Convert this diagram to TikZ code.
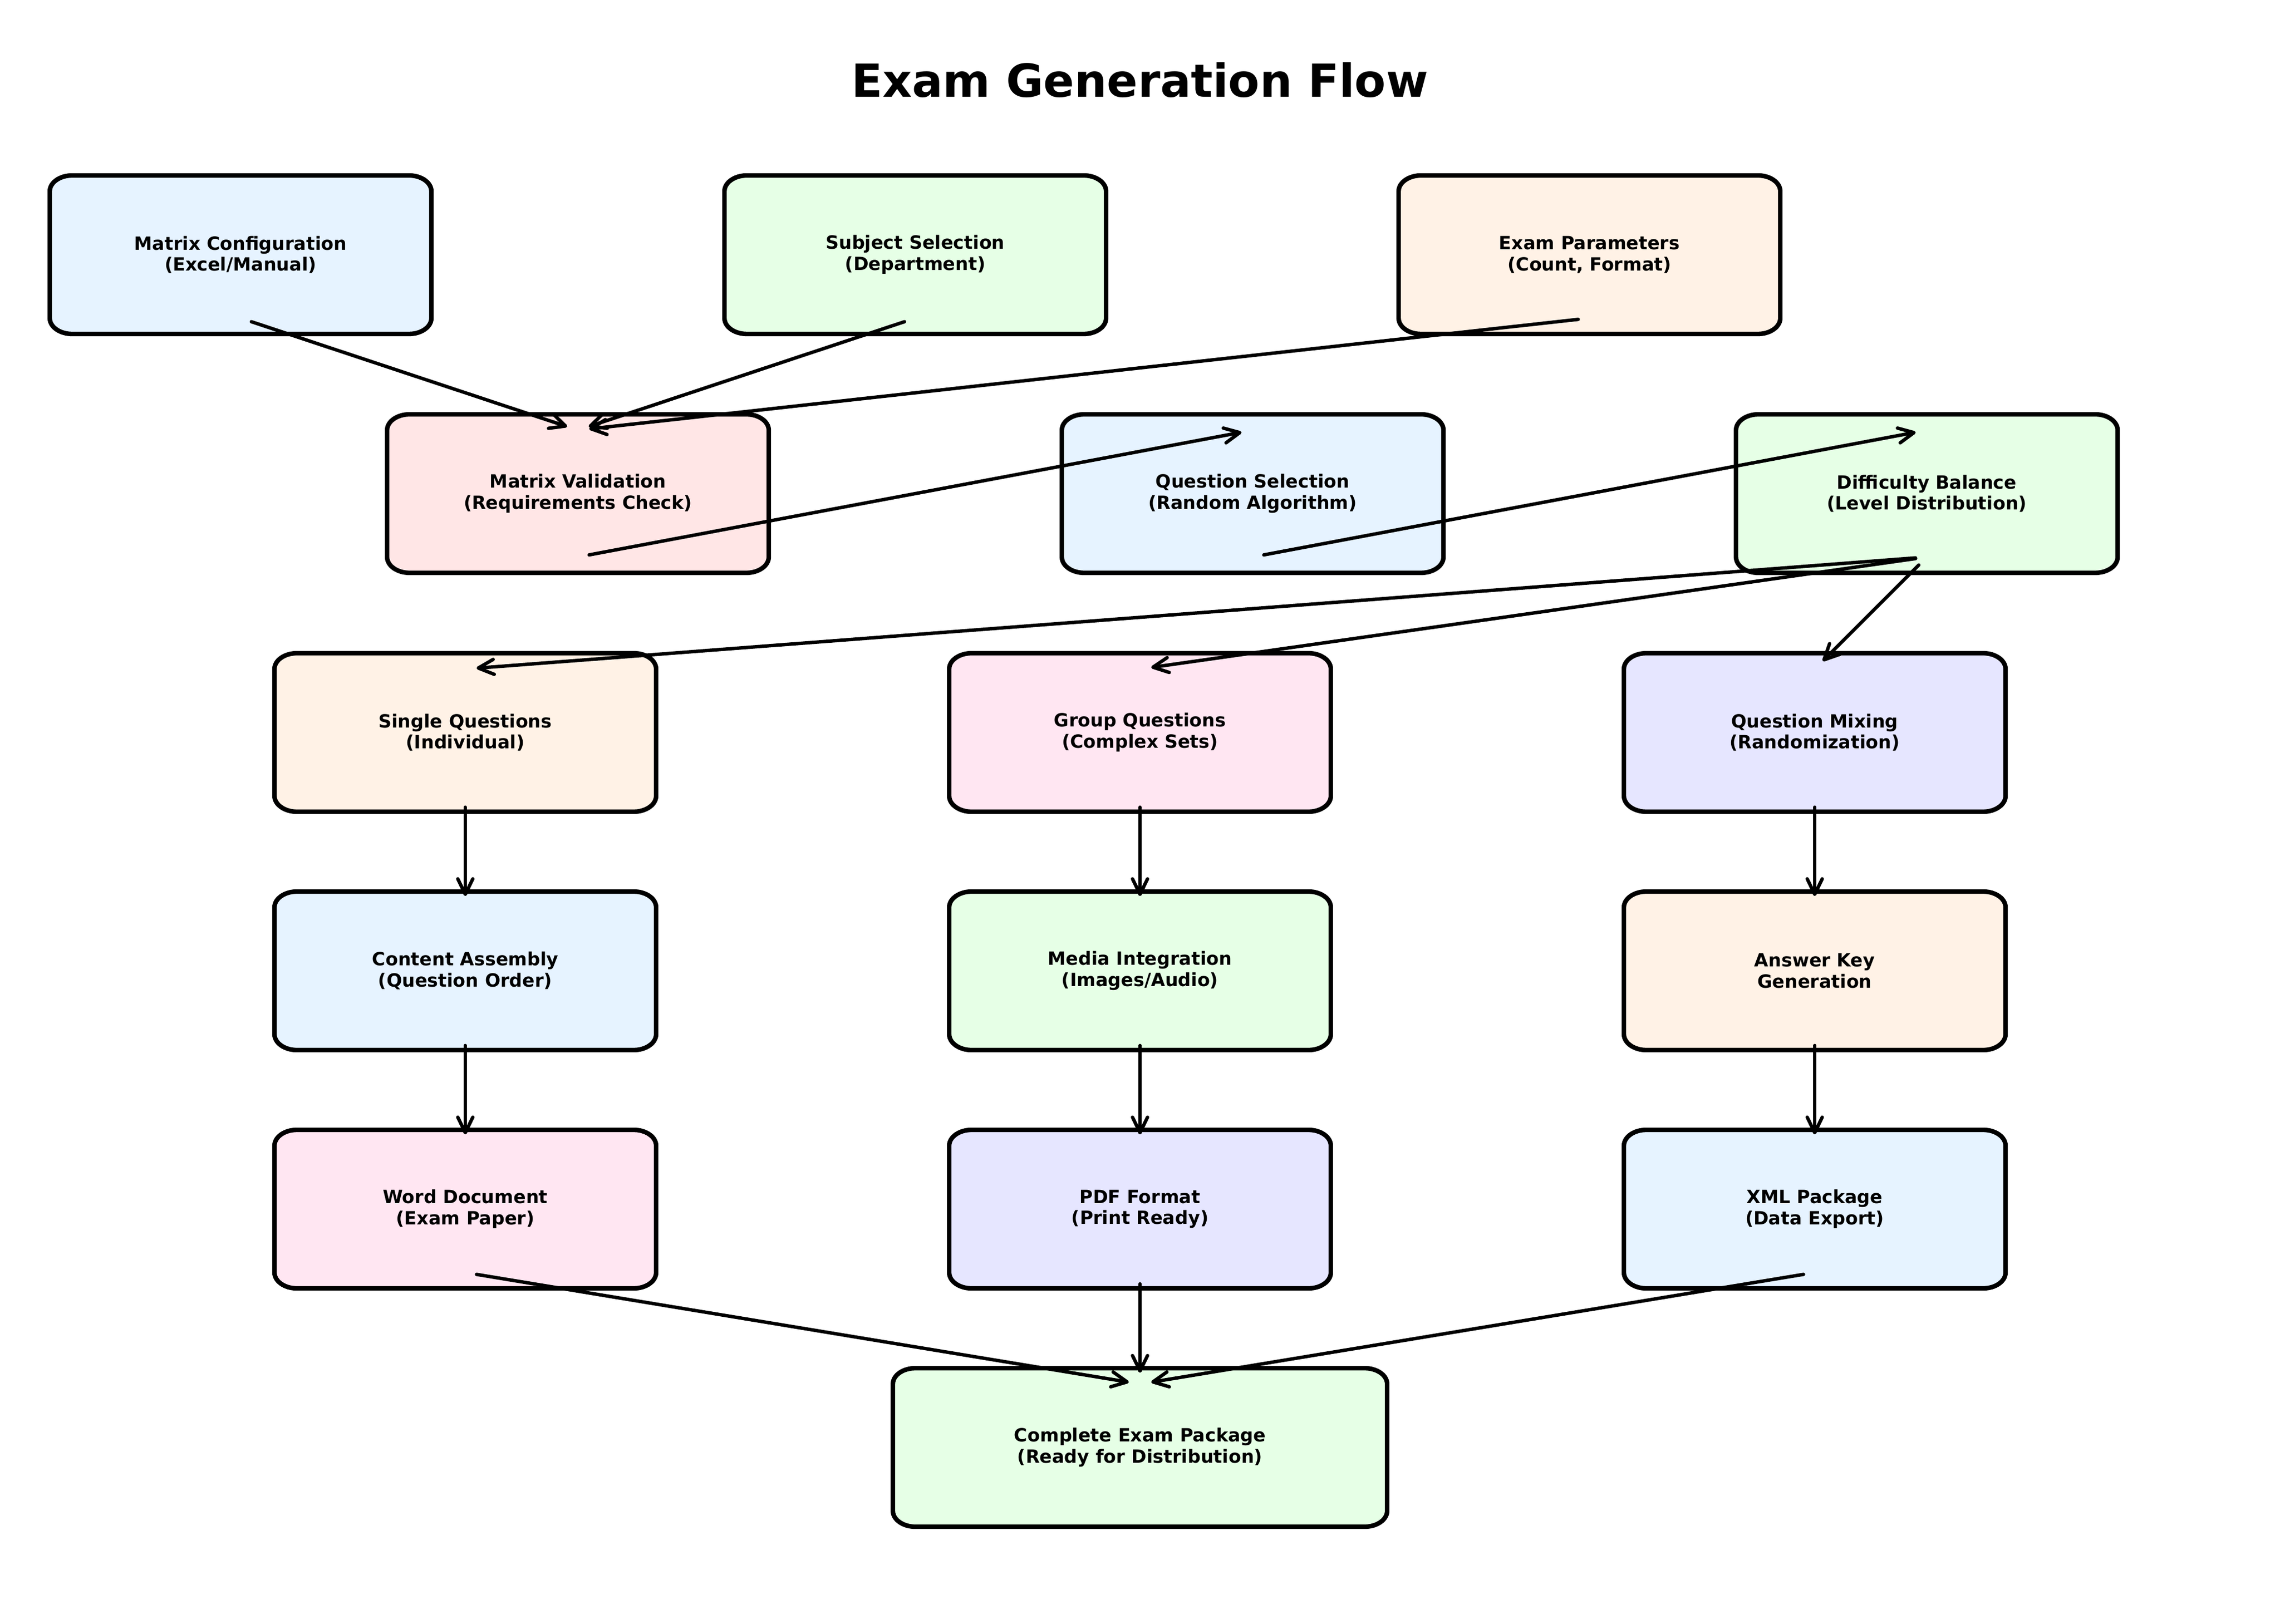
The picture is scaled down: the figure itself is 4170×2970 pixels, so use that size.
\documentclass[tikz,border=0pt]{standalone}
\usepackage{fontspec}
\setmainfont{DejaVu Sans}
\usetikzlibrary{arrows.meta,calc,backgrounds}
\definecolor{cblue}{HTML}{E6F3FF}
\definecolor{cgreen}{HTML}{E6FFE6}
\definecolor{corange}{HTML}{FFF2E6}
\definecolor{cred}{HTML}{FFE6E6}
\definecolor{cpink}{HTML}{FFE6F2}
\definecolor{clav}{HTML}{E6E6FF}
\tikzset{
  lbl/.style={font=\fontsize{8.03pt}{9.3pt}\selectfont\bfseries, align=center, inner sep=0pt},
  frame/.style={draw=black, line width=2.0pt, line join=round},
  flow/.style={draw=black, line width=1.5pt, line cap=round,
    -{Straight Barb[length=6.8pt, width=6.6pt, round]},
    shorten <=5pt, shorten >=5pt},
}
\newcommand\examframe[3]{%
  \path[frame, fill=#3, shift={(#1)}]
    (-#2+41,145) -- (#2-41,145)
    arc[start angle=90, end angle=0, x radius=9.877pt, y radius=6.986pt]
    -- (#2,-116)
    arc[start angle=0, end angle=-90, x radius=9.877pt, y radius=6.986pt]
    -- (-#2+41,-145)
    arc[start angle=270, end angle=180, x radius=9.877pt, y radius=6.986pt]
    -- (-#2,116)
    arc[start angle=180, end angle=90, x radius=9.877pt, y radius=6.986pt]
    -- cycle;}
\begin{document}
\begin{tikzpicture}[x=0.2409pt, y=0.2409pt]
\useasboundingbox (0,0) rectangle (4170,2970);
\node[font=\fontsize{20.07pt}{24pt}\selectfont\bfseries] (title) at (2085,2824) {Exam Generation Flow};
% row 1
\node[lbl] (MC) at (440,2504) {Matrix Configuration\\(Excel/Manual)};
\node[lbl] (SS) at (1674,2504) {Subject Selection\\(Department)};
\node[lbl] (EP) at (2907,2504) {Exam Parameters\\(Count, Format)};
% row 2
\node[lbl] (MV) at (1057,2067) {Matrix Validation\\(Requirements Check)};
\node[lbl] (QS) at (2291,2067) {Question Selection\\(Random Algorithm)};
\node[lbl] (DB) at (3524,2067) {Difficulty Balance\\(Level Distribution)};
% row 3
\node[lbl] (SQ) at (851,1630) {Single Questions\\(Individual)};
\node[lbl] (GQ) at (2085,1630) {Group Questions\\(Complex Sets)};
\node[lbl] (QM) at (3319,1630) {Question Mixing\\(Randomization)};
% row 4
\node[lbl] (CA) at (851,1194) {Content Assembly\\(Question Order)};
\node[lbl] (MI) at (2085,1194) {Media Integration\\(Images/Audio)};
\node[lbl] (AK) at (3319,1194) {Answer Key\\Generation};
% row 5
\node[lbl] (WD) at (851,758) {Word Document\\(Exam Paper)};
\node[lbl] (PD) at (2085,758) {PDF Format\\(Print Ready)};
\node[lbl] (XP) at (3319,758) {XML Package\\(Data Export)};
% row 6
\node[lbl] (CE) at (2085,322) {Complete Exam Package\\(Ready for Distribution)};
\begin{scope}[on background layer]
\examframe{MC}{349}{cblue}
\examframe{SS}{349}{cgreen}
\examframe{EP}{349}{corange}
\examframe{MV}{349}{cred}
\examframe{QS}{349}{cblue}
\examframe{DB}{349}{cgreen}
\examframe{SQ}{349}{corange}
\examframe{GQ}{349}{cpink}
\examframe{QM}{349}{clav}
\examframe{CA}{349}{cblue}
\examframe{MI}{349}{cgreen}
\examframe{AK}{349}{corange}
\examframe{WD}{349}{cpink}
\examframe{PD}{349}{clav}
\examframe{XP}{349}{cblue}
\examframe{CE}{452}{cgreen}
\end{scope}
% connectors
\draw[flow] ($(MC)+(0,-116)$) -- ($(MV)+(0,116)$);
\draw[flow] ($(SS)+(0,-116)$) -- ($(MV)+(0,116)$);
\draw[flow] ($(EP)+(0,-116)$) -- ($(MV)+(0,116)$);
\draw[flow] ($(MV)+(0,-116)$) -- ($(QS)+(0,116)$);
\draw[flow] ($(QS)+(0,-116)$) -- ($(DB)+(0,116)$);
\draw[flow] ($(DB)+(0,-116)$) -- ($(SQ)+(0,116)$);
\draw[flow] ($(DB)+(0,-116)$) -- ($(GQ)+(0,116)$);
\draw[flow] ($(DB)+(0,-116)$) -- ($(QM)+(0,116)$);
\draw[flow] ($(SQ)+(0,-116)$) -- ($(CA)+(0,116)$);
\draw[flow] ($(GQ)+(0,-116)$) -- ($(MI)+(0,116)$);
\draw[flow] ($(QM)+(0,-116)$) -- ($(AK)+(0,116)$);
\draw[flow] ($(CA)+(0,-116)$) -- ($(WD)+(0,116)$);
\draw[flow] ($(MI)+(0,-116)$) -- ($(PD)+(0,116)$);
\draw[flow] ($(AK)+(0,-116)$) -- ($(XP)+(0,116)$);
\draw[flow] ($(WD)+(0,-116)$) -- ($(CE)+(0,116)$);
\draw[flow] ($(PD)+(0,-116)$) -- ($(CE)+(0,116)$);
\draw[flow] ($(XP)+(0,-116)$) -- ($(CE)+(0,116)$);
\end{tikzpicture}
\end{document}
